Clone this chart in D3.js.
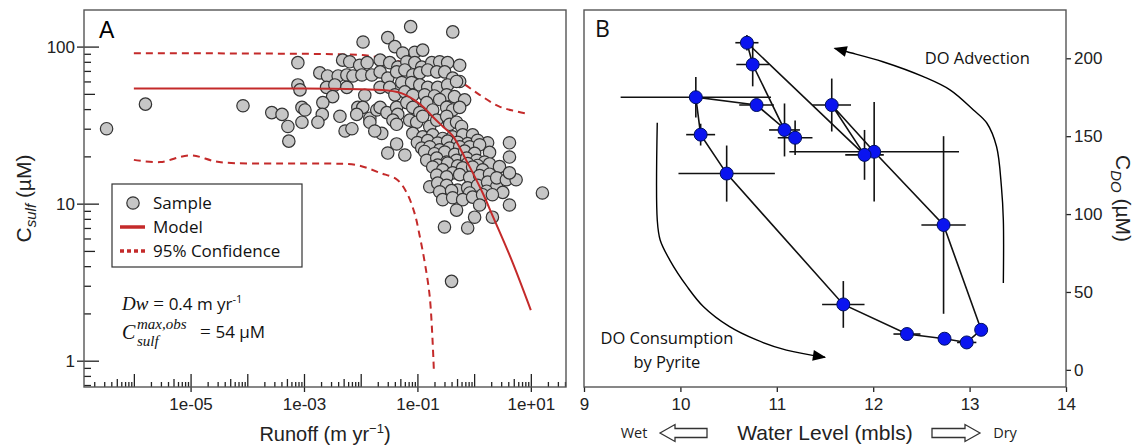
<!DOCTYPE html>
<html>
<head>
<meta charset="utf-8">
<script src="https://cdn.jsdelivr.net/npm/d3@7"></script>
<style>
  body { margin: 0; background: #fff; }
</style>
</head>
<body>
<div id="chart"></div>
<script>
// ---- Panel A data: runoff (m/yr) vs sulfate (uM) ----
const samples = [
  [3.3e-7,30],[1.6e-6,43],[8.4e-5,42],[2.7e-4,38],[4.1e-4,37],[5.2e-4,31],[5.4e-4,25],[7.8e-4,79],[7.8e-4,57],[8.5e-4,53],[9.2e-4,41],[9.2e-4,33],
  [0.076,134],[0.42,124],[0.011,107],[0.030,114],[0.040,100],[0.090,92],[0.124,95],[0.055,91],
  [0.0048,82],[0.0064,80],[0.0096,76],[0.013,79],[0.022,82],[0.0325,79],[0.045,74],[0.065,80],[0.090,79],[0.119,74],[0.179,79],[0.247,80],[0.341,79],[0.556,76],
  [0.0019,68],[0.0026,65],[0.0040,65],[0.0057,66],[0.0073,65],[0.0105,66],[0.0157,66],[0.022,69],[0.030,63],[0.043,69],[0.060,71],[0.083,66],[0.110,68],[0.152,71],[0.219,69],[0.303,69],[0.418,63],[0.556,60],
  [0.0025,55],[0.0035,57],[0.0057,55],[0.022,55],[0.0325,55],[0.053,59],[0.079,59],[0.110,57],[0.152,55],[0.228,55],[0.341,57],[0.49,60],
  [0.0032,48],[0.0118,49],[0.040,49.3],[0.060,51.5],[0.083,49],[0.134,49.3],[0.20,48.5],[0.328,49.3],[0.45,48],[0.68,45.8],
  [0.00104,39.5],[0.00215,44],[0.0021,37],[0.00176,33],[0.0043,36],[0.0053,29],[0.0070,30],[0.0089,41],[0.0109,41],[0.0145,35],[0.0192,39.5],[0.022,41],[0.0235,28],[0.029,38],[0.043,41],[0.045,37],[0.065,44],[0.083,41],[0.110,38],[0.146,44],[0.186,39.5],[0.247,46],[0.328,41],[0.418,39.5],[0.556,41],
  [0.0085,37],[0.0145,33],[0.0177,29],[0.037,34],[0.043,32],[0.073,34],[0.097,33],[0.124,36],[0.165,31],[0.219,34],[0.328,36],[0.37,32],[0.49,33],[0.60,31],
  [0.030,21],[0.043,24],[16,11.7],
  [0.083,28],[0.124,26.6],[0.186,27.4],[0.279,26],[0.418,26.6],[0.628,27.4],[0.94,27.4],[1.73,24.4],[4.2,24.4],[4.2,19.8],
  [0.10,24.5],[0.152,25.2],[0.228,24.3],[0.341,25],[0.512,24.6],[0.769,24.1],[1.15,25.3],
  [0.060,20.4],[0.119,22.6],[0.165,23],[0.247,22],[0.37,22.6],[0.556,23],[0.834,23],[1.25,23.7],
  [0.134,21.5],[0.20,20.8],[0.303,21.3],[0.456,20.6],[0.68,21.6],[1.02,20.9],[1.87,21.2],
  [0.146,18.9],[0.219,19.5],[0.328,18.4],[0.49,18.9],[0.738,19.5],[1.11,18.9],[1.53,18.4],
  [0.228,17.6],[0.341,18.1],[0.512,17.4],[0.769,18],[1.15,17.5],[1.87,17.9],[2.8,17.2],
  [0.186,17.1],[0.279,16.4],[0.418,15.7],[0.628,16.9],[0.94,17.1],[1.41,16.4],
  [0.219,15.2],[0.328,14.8],[0.556,15.3],[0.834,14.7],[1.25,15.1],[1.87,15.4],
  [0.165,12.8],[0.228,13.5],[0.328,13.1],[0.512,12.2],[0.769,12.6],[1.15,13.1],[1.73,13.7],[2.5,12.8],[2.5,14.6],[3.7,14.2],[5.5,14.2],[4.2,15.7],
  [0.247,11.9],[0.40,12.1],[0.834,11.7],[1.66,12],[3.2,11.8],
  [0.279,10.6],[0.418,10.9],[0.628,10.6],[0.94,11],[1.41,11.4],[2.1,11.4],
  [0.49,9.1],[1.02,8.2],[2.1,8.2],[1.25,9.8],[4.2,9.8],[0.30,7.1],[0.77,7.0],[0.40,3.2]
];

const modelRunoff = [1e-6, 1e-3, 1e-2, 0.03, 0.06, 0.09, 0.13, 0.19, 0.28, 0.42, 0.72, 1.43, 2.14, 4.8, 10];
const modelConc   = [54, 54, 53.5, 52.5, 49.5, 45.5, 41, 35.5, 31, 27, 19, 11.6, 8.3, 4.2, 2.1];

const upperRunoff = [1e-6, 8.5e-4, 9.5e-3, 0.022, 0.064, 0.123, 0.245, 0.556, 1.25, 2.8, 5, 9.1];
const upperConc   = [90.8, 90, 88.5, 85, 78.5, 73, 67, 60, 49.3, 41.5, 39, 37.3];

const lowerRunoff = [1e-6, 2.9e-6, 9.8e-6, 3.2e-5, 3.6e-4, 2.75e-3, 8.5e-3, 0.022, 0.044, 0.065, 0.089, 0.11, 0.135, 0.166, 0.195];
const lowerConc   = [19, 18.4, 20.3, 18.4, 18, 18, 17.6, 15.7, 14.2, 11.7, 8.7, 6.2, 4.2, 2.5, 0.87];

const runoffLabels = [1e-5, 1e-3, 1e-1, 1e1];
const sulfTicks = [1, 10, 100];

// ---- Panel B data: water level (mbls) vs DO (uM), in sampling order ----
const waterLevel = [12.01, 11.57, 11.91, 10.69, 10.75, 11.08, 11.19, 10.79, 10.16, 10.21, 10.48, 11.69, 12.35, 12.74, 12.97, 13.12, 12.73];
const doConc     = [140, 170, 138, 210, 196, 154, 149, 170, 175, 151, 126, 42, 23, 20, 17.6, 25.7, 93];
const levelErr   = [0.88, 0.2, 0.2, 0.12, 0.17, 0.16, 0.18, 0.18, 0.78, 0.15, 0.5, 0.22, 0.14, 0.05, 0.1, 0, 0.23];
const doErr      = [32, 17, 16, 5, 14, 17, 11, 4, 13, 7, 18, 15, 2, 0, 1, 0, 57];

const levelTicks = [9, 10, 11, 12, 13, 14];
const doTicks = [0, 50, 100, 150, 200];

// annotation arrows, in data units of panel B
const advectionPath = [[13.35,55.8],[13.35,96.2],[13.33,117.6],[13.28,143.2],[13.18,158.3],[13.04,166.8],[12.80,179.6],[12.52,188.2],[12.10,197.8],[11.73,204.2],[11.60,206.4]];
const consumptionPath = [[9.76,158.6],[9.76,96.2],[9.79,83.4],[9.89,70.5],[10.07,53.4],[10.24,40.5],[10.51,27.7],[10.79,19.2],[11.10,12.7],[11.50,8.1]];

const W = 1137, H = 448;
const red = "#c42a2a";
const tickFont = "'Liberation Sans', Arial, sans-serif";
const textFont = "'Open Sans', 'Noto Sans', sans-serif";
const serif = "'Liberation Serif', 'DejaVu Serif', serif";

const svg = d3.select("#chart").append("svg")
  .attr("width", W).attr("height", H)
  .style("font-family", tickFont);

// ================= Panel A =================
const pa = { left: 84, right: 566, top: 10, bottom: 387 };
const xA = d3.scaleLog().domain([1.32e-7, 41.7]).range([pa.left, pa.right]);
const yA = d3.scaleLog().domain([0.68, 171]).range([pa.bottom, pa.top]);

const decades = d3.range(-6, 2).map(e => Math.pow(10, e));
const minorX = [];
for (let e = -7; e <= 1; e++) for (let m = 2; m <= 9; m++) {
  const v = m * Math.pow(10, e);
  if (v > xA.domain()[0] && v < xA.domain()[1]) minorX.push(v);
}
const minorY = [];
for (let e = -1; e <= 2; e++) for (let m = 2; m <= 9; m++) {
  const v = m * Math.pow(10, e);
  if (v > yA.domain()[0] && v < yA.domain()[1]) minorY.push(v);
}
const mantissa = v => Math.round(v / Math.pow(10, Math.floor(Math.log10(v) + 1e-9)));

function fmtExp(d) {
  const e = Math.round(Math.log10(d));
  return "1e" + (e < 0 ? "-" : "+") + String(Math.abs(e)).padStart(2, "0");
}

function styleAxis(g, size) {
  g.select(".domain").remove();
  g.selectAll("line").attr("stroke", "#222").attr("stroke-width", 1.3);
  g.selectAll("text").attr("font-family", tickFont).attr("font-size", size).attr("fill", "#222");
}

// x minor ticks (inside)
svg.append("g").attr("transform", `translate(0,${pa.bottom})`)
  .call(d3.axisBottom(xA).tickValues(minorX.filter(v => mantissa(v) !== 5)).tickSize(-5).tickFormat(""))
  .call(g => styleAxis(g, 17));
svg.append("g").attr("transform", `translate(0,${pa.bottom})`)
  .call(d3.axisBottom(xA).tickValues(minorX.filter(v => mantissa(v) === 5)).tickSize(-8).tickFormat(""))
  .call(g => styleAxis(g, 17));
// x decade ticks
svg.append("g").attr("transform", `translate(0,${pa.bottom})`)
  .call(d3.axisBottom(xA).tickValues(decades).tickSize(-13).tickFormat(""))
  .call(g => styleAxis(g, 17));
// x labels
svg.append("g").attr("transform", `translate(0,${pa.bottom})`)
  .call(d3.axisBottom(xA).tickValues(runoffLabels).tickSize(5).tickPadding(6).tickFormat(fmtExp))
  .call(g => styleAxis(g, 17));

// y minor ticks (inside)
svg.append("g").attr("transform", `translate(${pa.left},0)`)
  .call(d3.axisRight(yA).tickValues(minorY.filter(v => mantissa(v) !== 5)).tickSize(7).tickFormat(""))
  .call(g => styleAxis(g, 17));
svg.append("g").attr("transform", `translate(${pa.left},0)`)
  .call(d3.axisRight(yA).tickValues(minorY.filter(v => mantissa(v) === 5)).tickSize(11).tickFormat(""))
  .call(g => styleAxis(g, 17));
svg.append("g").attr("transform", `translate(${pa.left},0)`)
  .call(d3.axisRight(yA).tickValues(sulfTicks).tickSize(15).tickFormat(""))
  .call(g => styleAxis(g, 17));
svg.append("g").attr("transform", `translate(${pa.left},0)`)
  .call(d3.axisLeft(yA).tickValues(sulfTicks).tickSize(7).tickPadding(2).tickFormat(d3.format("d")))
  .call(g => styleAxis(g, 17));

// frame A
svg.append("rect")
  .attr("x", pa.left).attr("y", pa.top)
  .attr("width", pa.right - pa.left).attr("height", pa.bottom - pa.top)
  .attr("fill", "none").attr("stroke", "#555").attr("stroke-width", 1.4);

svg.append("clipPath").attr("id", "clipA").append("rect")
  .attr("x", pa.left).attr("y", pa.top).attr("width", pa.right - pa.left).attr("height", pa.bottom - pa.top);

const lineA = d3.line().x(d => xA(d[0])).y(d => yA(d[1])).curve(d3.curveMonotoneX);

const plotA = svg.append("g").attr("clip-path", "url(#clipA)");

plotA.append("path")
  .datum(upperRunoff.map((q, i) => [q, upperConc[i]]))
  .attr("d", lineA).attr("fill", "none").attr("stroke", red)
  .attr("stroke-width", 2).attr("stroke-dasharray", "7,5");
plotA.append("path")
  .datum(lowerRunoff.map((q, i) => [q, lowerConc[i]]))
  .attr("d", d3.line().x(d => xA(d[0])).y(d => yA(d[1])).curve(d3.curveCatmullRom))
  .attr("fill", "none").attr("stroke", red)
  .attr("stroke-width", 2).attr("stroke-dasharray", "7,5");

plotA.selectAll("circle.sample")
  .data(samples)
  .enter().append("circle")
  .attr("class", "sample")
  .attr("cx", d => xA(d[0]))
  .attr("cy", d => yA(d[1]))
  .attr("r", 6.2)
  .attr("fill", "#c6c6c6")
  .attr("stroke", "#333")
  .attr("stroke-width", 1.2);

plotA.append("path")
  .datum(modelRunoff.map((q, i) => [q, modelConc[i]]))
  .attr("d", lineA).attr("fill", "none").attr("stroke", red).attr("stroke-width", 2);

// panel letter
svg.append("text").attr("x", pa.left + 15).attr("y", 38)
  .attr("font-family", tickFont).attr("font-size", 23).text("A");

// legend
const lg = svg.append("g").attr("transform", "translate(112,184)");
lg.append("rect").attr("width", 190).attr("height", 83)
  .attr("fill", "#fff").attr("stroke", "#333").attr("stroke-width", 1.2);
lg.append("circle").attr("cx", 21).attr("cy", 19).attr("r", 6.2)
  .attr("fill", "#c6c6c6").attr("stroke", "#333").attr("stroke-width", 1.2);
lg.append("line").attr("x1", 8).attr("x2", 33).attr("y1", 43).attr("y2", 43)
  .attr("stroke", red).attr("stroke-width", 3.5);
lg.append("line").attr("x1", 8).attr("x2", 33).attr("y1", 67).attr("y2", 67)
  .attr("stroke", red).attr("stroke-width", 3.5).attr("stroke-dasharray", "4,3");
[["Sample", 19], ["Model", 43], ["95% Confidence", 67]].forEach(([t, y]) => {
  lg.append("text").attr("x", 41).attr("y", y).attr("dy", "0.35em")
    .attr("font-family", textFont).attr("font-size", 17).attr("fill", "#111").text(t);
});

// model parameters
const p1 = svg.append("text").attr("x", 122).attr("y", 310).attr("font-size", 19).attr("fill", "#111");
p1.append("tspan").attr("font-family", serif).attr("font-style", "italic").text("Dw");
p1.append("tspan").attr("font-family", serif).text(" = ");
p1.append("tspan").attr("font-family", textFont).attr("font-size", 17).text("0.4 m yr");
p1.append("tspan").attr("font-family", textFont).attr("font-size", 11).attr("dy", -7).text("-1");

svg.append("text").attr("x", 122).attr("y", 339).attr("font-family", serif)
  .attr("font-style", "italic").attr("font-size", 20).attr("fill", "#111").text("C");
svg.append("text").attr("x", 137).attr("y", 329).attr("font-family", serif)
  .attr("font-style", "italic").attr("font-size", 15).attr("fill", "#111").text("max,obs");
svg.append("text").attr("x", 137).attr("y", 346).attr("font-family", serif)
  .attr("font-style", "italic").attr("font-size", 15).attr("fill", "#111").text("sulf");
const p2 = svg.append("text").attr("x", 200).attr("y", 338).attr("font-size", 19).attr("fill", "#111");
p2.append("tspan").attr("font-family", serif).text("= ");
p2.append("tspan").attr("font-family", textFont).attr("font-size", 17).text("54 µM");

// axis titles A
svg.append("text").attr("x", (pa.left + pa.right) / 2).attr("y", 441)
  .attr("text-anchor", "middle").attr("font-size", 20).attr("fill", "#222")
  .call(t => {
    t.append("tspan").text("Runoff (m yr");
    t.append("tspan").attr("font-size", 13).attr("dy", -8).text("−1");
    t.append("tspan").attr("dy", 8).text(")");
  });

svg.append("text")
  .attr("transform", `translate(31,${(pa.top + pa.bottom) / 2}) rotate(-90)`)
  .attr("text-anchor", "middle").attr("font-size", 21).attr("fill", "#222")
  .call(t => {
    t.append("tspan").text("C");
    t.append("tspan").attr("font-size", 15).attr("font-style", "italic").attr("dy", 5).text("sulf");
    t.append("tspan").attr("dy", -5).text(" (µM)");
  });

// ================= Panel B =================
const pb = { left: 584, right: 1066, top: 10, bottom: 387 };
const xB = d3.scaleLinear().domain([9, 14]).range([pb.left, pb.right]);
const yB = d3.scaleLinear().domain([-11, 231]).range([pb.bottom, pb.top]);

svg.append("g").attr("transform", `translate(0,${pb.bottom})`)
  .call(d3.axisBottom(xB).tickValues(levelTicks).tickSize(5).tickPadding(6).tickFormat(d3.format("d")))
  .call(g => styleAxis(g, 17));
svg.append("g").attr("transform", `translate(${pb.right},0)`)
  .call(d3.axisRight(yB).tickValues(doTicks).tickSize(5).tickPadding(3).tickFormat(d3.format("d")))
  .call(g => styleAxis(g, 17));

svg.append("rect")
  .attr("x", pb.left).attr("y", pb.top)
  .attr("width", pb.right - pb.left).attr("height", pb.bottom - pb.top)
  .attr("fill", "none").attr("stroke", "#555").attr("stroke-width", 1.4);

svg.append("text").attr("x", pb.left + 11).attr("y", 37)
  .attr("font-family", textFont).attr("font-size", 23).attr("fill", "#111").text("B");

const obs = waterLevel.map((w, i) => ({ w, c: doConc[i], ew: levelErr[i], ec: doErr[i] }));

// trajectory
svg.append("path")
  .datum(obs)
  .attr("d", d3.line().x(d => xB(d.w)).y(d => yB(d.c)).curve(d3.curveLinearClosed))
  .attr("fill", "none").attr("stroke", "#111").attr("stroke-width", 1.6);

// error bars
const eb = svg.append("g").attr("stroke", "#111").attr("stroke-width", 1.6);
eb.selectAll("line.h").data(obs.filter(d => d.ew > 0)).enter().append("line")
  .attr("x1", d => xB(d.w - d.ew)).attr("x2", d => xB(d.w + d.ew))
  .attr("y1", d => yB(d.c)).attr("y2", d => yB(d.c));
eb.selectAll("line.v").data(obs.filter(d => d.ec > 0)).enter().append("line")
  .attr("x1", d => xB(d.w)).attr("x2", d => xB(d.w))
  .attr("y1", d => yB(d.c - d.ec)).attr("y2", d => yB(d.c + d.ec));

svg.selectAll("circle.obs").data(obs).enter().append("circle")
  .attr("class", "obs")
  .attr("cx", d => xB(d.w)).attr("cy", d => yB(d.c))
  .attr("r", 6.5).attr("fill", "#0a14f0").attr("stroke", "#001060").attr("stroke-width", 1);

// curved process arrows
svg.append("defs").append("marker")
  .attr("id", "head").attr("viewBox", "0 0 12 10")
  .attr("refX", 11).attr("refY", 5)
  .attr("markerWidth", 15).attr("markerHeight", 11)
  .attr("markerUnits", "userSpaceOnUse").attr("orient", "auto")
  .append("path").attr("d", "M0,0 L12,5 L0,10 z").attr("fill", "#000");

const arrowLine = d3.line().x(d => xB(d[0])).y(d => yB(d[1])).curve(d3.curveCatmullRom);
[advectionPath, consumptionPath].forEach(p => {
  svg.append("path").datum(p).attr("d", arrowLine)
    .attr("fill", "none").attr("stroke", "#000").attr("stroke-width", 1.4)
    .attr("marker-end", "url(#head)");
});

svg.append("text").attr("x", xB(13.08)).attr("y", yB(200)).attr("dy", "0.35em")
  .attr("text-anchor", "middle").attr("font-family", textFont).attr("font-size", 16.5)
  .attr("fill", "#111").text("DO Advection");
svg.append("text").attr("x", xB(9.86)).attr("y", yB(20)).attr("dy", "0.35em")
  .attr("text-anchor", "middle").attr("font-family", textFont).attr("font-size", 16.5)
  .attr("fill", "#111").text("DO Consumption");
svg.append("text").attr("x", xB(9.86)).attr("y", yB(5)).attr("dy", "0.35em")
  .attr("text-anchor", "middle").attr("font-family", textFont).attr("font-size", 16.5)
  .attr("fill", "#111").text("by Pyrite");

// axis titles B
const titleX = 825, titleY = 433;
svg.append("text").attr("x", titleX).attr("y", titleY).attr("dy", "0.35em")
  .attr("text-anchor", "middle").attr("font-size", 21).attr("fill", "#222")
  .text("Water Level (mbls)");
svg.append("text").attr("x", titleX - 191).attr("y", titleY).attr("dy", "0.35em")
  .attr("text-anchor", "middle").attr("font-family", textFont).attr("font-size", 14.5)
  .attr("fill", "#222").text("Wet");
svg.append("text").attr("x", titleX + 180).attr("y", titleY).attr("dy", "0.35em")
  .attr("text-anchor", "middle").attr("font-family", textFont).attr("font-size", 14.5)
  .attr("fill", "#222").text("Dry");

function hollowArrow(x0, x1, y, dir) {
  // dir = -1 points left, +1 points right
  const head = 15, hb = 4.5, hh = 8.5;
  const tip = dir < 0 ? x0 : x1, tail = dir < 0 ? x1 : x0;
  const base = tip - dir * head;
  const pts = [[tip, y], [base, y - hh], [base, y - hb], [tail, y - hb], [tail, y + hb], [base, y + hb], [base, y + hh]];
  svg.append("polygon").attr("points", pts.map(p => p.join(",")).join(" "))
    .attr("fill", "#fff").attr("stroke", "#333").attr("stroke-width", 1.3);
}
hollowArrow(titleX - 165, titleX - 118, titleY, -1);
hollowArrow(titleX + 107, titleX + 155, titleY, 1);

svg.append("text")
  .attr("transform", `translate(1116,${(pb.top + pb.bottom) / 2}) rotate(90)`)
  .attr("text-anchor", "middle").attr("font-size", 21).attr("fill", "#222")
  .call(t => {
    t.append("tspan").text("C");
    t.append("tspan").attr("font-size", 15).attr("font-style", "italic").attr("dy", 5).text("DO");
    t.append("tspan").attr("dy", -5).text(" (µM)");
  });
</script>
</body>
</html>
